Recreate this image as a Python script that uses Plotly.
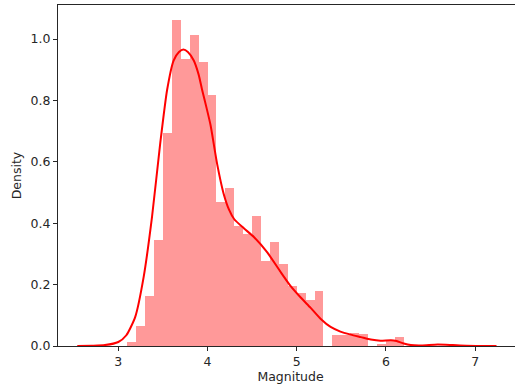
import plotly.graph_objects as go

# Histogram (density) bins: left edges and heights
bin_left = [3.1, 3.2, 3.3, 3.4, 3.5, 3.6, 3.7, 3.8, 3.9, 4.0,
            4.1, 4.2, 4.3, 4.4, 4.5, 4.6, 4.7, 4.8, 4.9, 5.0,
            5.1, 5.2, 5.3, 5.4, 5.5, 5.6, 5.7, 5.8, 5.9, 6.0, 6.1]
bin_height = [0.012, 0.066, 0.163, 0.346, 0.693, 1.062, 0.936, 1.013, 0.925, 0.817,
              0.470, 0.516, 0.392, 0.365, 0.424, 0.278, 0.338, 0.266, 0.195, 0.174,
              0.150, 0.179, 0.0, 0.036, 0.036, 0.042, 0.040, 0.0, 0.004, 0.018, 0.028]
bin_width = 0.1

# KDE curve
kde_x = [2.54, 2.7, 2.85, 3.0, 3.09, 3.19, 3.285, 3.378, 3.47, 3.547, 3.62, 3.68,
         3.73, 3.78, 3.846, 3.9, 3.94, 3.99, 4.034, 4.11, 4.18, 4.24, 4.30, 4.41,
         4.52, 4.67, 4.82, 4.93, 5.045, 5.157, 5.27, 5.38, 5.49, 5.607, 5.72, 5.83,
         5.94, 6.056, 6.12, 6.2, 6.28, 6.4, 6.58, 6.75, 6.9, 7.24]
kde_y = [0.0, 0.001, 0.003, 0.013, 0.035, 0.095, 0.226, 0.421, 0.66, 0.834, 0.93, 0.958,
         0.966, 0.958, 0.93, 0.885, 0.834, 0.775, 0.72, 0.59, 0.497, 0.445, 0.413, 0.383,
         0.355, 0.305, 0.241, 0.196, 0.158, 0.124, 0.088, 0.062, 0.047, 0.037, 0.029, 0.021,
         0.017, 0.019, 0.016, 0.008, 0.003, 0.002, 0.005, 0.003, 0.001, 0.0]

x_ticks = [3, 4, 5, 6, 7]
y_ticks = [0.0, 0.2, 0.4, 0.6, 0.8, 1.0]
y_tick_text = ["0.0", "0.2", "0.4", "0.6", "0.8", "1.0"]

fig = go.Figure()
fig.add_trace(go.Bar(
    x=bin_left, y=bin_height, width=bin_width, offset=0,
    marker=dict(color="#ff9999", line=dict(width=0)),
    hoverinfo="skip", showlegend=False,
))
fig.add_trace(go.Scatter(
    x=kde_x, y=kde_y, mode="lines",
    line=dict(color="#ff0000", width=2, shape="spline", smoothing=0.6),
    showlegend=False,
))

font = dict(family="DejaVu Sans", size=12.5, color="#262626")
fig.update_layout(
    width=523, height=392,
    margin=dict(l=58, r=0, t=5, b=46, autoexpand=False),
    paper_bgcolor="white", plot_bgcolor="white",
    bargap=0, font=font,
    xaxis=dict(
        range=[2.324, 7.537], tickvals=x_ticks, ticks="outside", ticklen=4,
        tickcolor="#262626", showline=True, linecolor="#262626", linewidth=1,
        mirror=True, showgrid=False, zeroline=False, automargin=False,
        title=dict(text="Magnitude", standoff=4, font=font),
    ),
    yaxis=dict(
        range=[0, 1.111], tickvals=y_ticks, ticktext=y_tick_text, ticks="outside",
        ticklen=4, tickcolor="#262626", showline=True, linecolor="#262626",
        linewidth=1, showgrid=False, zeroline=False, automargin=False,
        title=dict(text="Density", standoff=6, font=font),
    ),
)
fig.write_html(
    "out.html",
    config={"displayModeBar": False},
    post_script="document.body.style.margin='0';document.body.style.overflow='hidden';",
)
